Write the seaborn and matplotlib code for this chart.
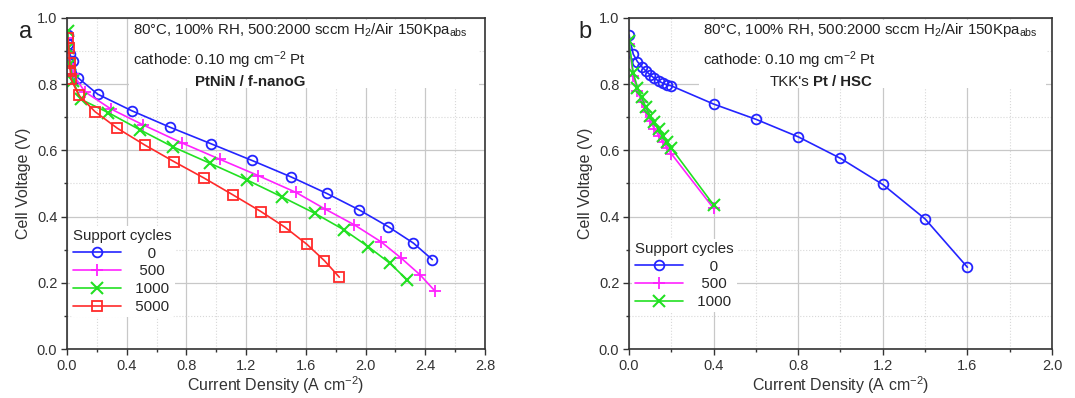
import numpy as np
import matplotlib
matplotlib.use("Agg")
import matplotlib.pyplot as plt
import seaborn as sns
from matplotlib.patches import Rectangle
from matplotlib.ticker import MultipleLocator

# panel a: PtNiN / f-nanoG
a_j0 = [0.005, 0.01, 0.02, 0.04, 0.072, 0.205, 0.433, 0.69, 0.965, 1.237, 1.50, 1.74, 1.958, 2.15, 2.32, 2.447]
a_v0 = [0.95, 0.92, 0.89, 0.87, 0.82, 0.77, 0.72, 0.67, 0.62, 0.57, 0.52, 0.47, 0.42, 0.37, 0.32, 0.27]
a_j500 = [0.005, 0.01, 0.02, 0.04, 0.12, 0.295, 0.51, 0.768, 1.025, 1.28, 1.534, 1.728, 1.925, 2.103, 2.24, 2.365, 2.465]
a_v500 = [0.94, 0.90, 0.86, 0.83, 0.777, 0.725, 0.677, 0.623, 0.573, 0.524, 0.473, 0.423, 0.375, 0.324, 0.274, 0.224, 0.175]
a_j1000 = [0.005, 0.01, 0.02, 0.04, 0.094, 0.277, 0.49, 0.708, 0.958, 1.204, 1.438, 1.66, 1.855, 2.018, 2.163, 2.28]
a_v1000 = [0.96, 0.91, 0.86, 0.81, 0.754, 0.714, 0.662, 0.611, 0.561, 0.511, 0.46, 0.41, 0.36, 0.309, 0.259, 0.208]
a_j5000 = [0.008, 0.012, 0.018, 0.022, 0.027, 0.08, 0.188, 0.337, 0.522, 0.717, 0.92, 1.114, 1.30, 1.46, 1.605, 1.724, 1.824]
a_v5000 = [0.94, 0.91, 0.863, 0.84, 0.815, 0.766, 0.717, 0.667, 0.616, 0.566, 0.516, 0.465, 0.415, 0.368, 0.317, 0.267, 0.217]

# panel b: TKK's Pt / HSC
b_j0 = [0.0, 0.02, 0.04, 0.06, 0.08, 0.10, 0.12, 0.14, 0.16, 0.18, 0.20, 0.4, 0.6, 0.8, 1.0, 1.2, 1.4, 1.6]
b_v0 = [0.949, 0.891, 0.868, 0.853, 0.84, 0.828, 0.818, 0.81, 0.803, 0.798, 0.795, 0.74, 0.694, 0.641, 0.576, 0.497, 0.393, 0.247]
b_j = [0.0, 0.02, 0.04, 0.06, 0.08, 0.10, 0.12, 0.14, 0.16, 0.18, 0.20, 0.40]
b_v500 = [0.92, 0.825, 0.78, 0.745, 0.715, 0.69, 0.665, 0.645, 0.625, 0.607, 0.59, 0.425]
b_v1000 = [0.93, 0.835, 0.79, 0.76, 0.73, 0.705, 0.685, 0.665, 0.645, 0.625, 0.607, 0.435]

sns.set_style("white")
plt.rcParams['font.family'] = ['Liberation Sans', 'DejaVu Sans']
plt.rcParams['mathtext.fontset'] = 'custom'
plt.rcParams['mathtext.rm'] = 'Liberation Sans'
plt.rcParams['mathtext.it'] = 'Liberation Sans'

styles = {
    '0': dict(color='#2424ff', marker='o', markerfacecolor='none', markersize=7, markeredgewidth=1.3),
    '500': dict(color='#ff22ff', marker='+', markersize=9, markeredgewidth=1.3),
    '1000': dict(color='#22e022', marker='x', markersize=8, markeredgewidth=1.5),
    '5000': dict(color='#ff2a2a', marker='s', markerfacecolor='none', markersize=6.5, markeredgewidth=1.3),
}
labels = {'0': '     0', '500': '   500', '1000': '  1000', '5000': '  5000'}

fig = plt.figure(figsize=(10.75, 3.98), dpi=100)
ax_a = fig.add_axes([0.0623, 0.1231, 0.3889, 0.8317])
ax_b = fig.add_axes([0.5851, 0.1231, 0.3935, 0.8317])


def draw(ax, series, xmax, box_x0):
    for key, (x, y) in series.items():
        st = styles[key]
        sns.lineplot(x=x, y=y, ax=ax, estimator=None, sort=False, linewidth=1.2,
                     label=labels[key], markeredgecolor=st['color'], **st)
    ax.set_xlim(0, xmax)
    ax.set_ylim(0, 1.0)
    ax.xaxis.set_major_locator(MultipleLocator(0.4))
    ax.xaxis.set_minor_locator(MultipleLocator(0.2))
    ax.yaxis.set_major_locator(MultipleLocator(0.2))
    ax.yaxis.set_minor_locator(MultipleLocator(0.1))
    ax.xaxis.set_major_formatter('{x:.1f}')
    ax.yaxis.set_major_formatter('{x:.1f}')
    ax.set_axisbelow(True)
    ax.grid(which='major', color='#c8c8c8', linewidth=0.9)
    ax.grid(which='minor', color='#d8d8d8', linewidth=0.8, linestyle=':')
    ax.tick_params(which='both', direction='out', left=True, bottom=True, labelsize=10.5, colors='#333333')
    ax.tick_params(which='major', length=4, width=1, pad=3)
    ax.tick_params(which='minor', length=2.5, width=1)
    for s in ax.spines.values():
        s.set_color('#333333')
        s.set_linewidth(1.2)
    ax.set_xlabel('Current Density (A cm$^{-2}$)', fontsize=11.5, color='#333333', labelpad=1)
    ax.set_ylabel('Cell Voltage (V)', fontsize=11.5, color='#333333')
    ax.add_patch(Rectangle((box_x0, 0.79), 0.985 - box_x0, 0.205, transform=ax.transAxes,
                           facecolor='white', edgecolor='none', zorder=1.5))
    ax.text(box_x0 + 0.01, 0.965, '80\u00b0C, 100% RH, 500:2000 sccm H$_2$/Air 150Kpa$_{abs}$',
            transform=ax.transAxes, fontsize=10.8, va='center', color='#222222')
    ax.text(box_x0 + 0.01, 0.873, 'cathode: 0.10 mg cm$^{-2}$ Pt',
            transform=ax.transAxes, fontsize=10.8, va='center', color='#222222')


draw(ax_a, {'0': (a_j0, a_v0), '500': (a_j500, a_v500),
            '1000': (a_j1000, a_v1000), '5000': (a_j5000, a_v5000)}, 2.8, 0.148)
draw(ax_b, {'0': (b_j0, b_v0), '500': (b_j, b_v500), '1000': (b_j, b_v1000)}, 2.0, 0.165)

ax_a.text(0.438, 0.807, 'PtNiN / f-nanoG', transform=ax_a.transAxes, fontsize=10.8,
          fontweight='bold', ha='center', va='center', color='#222222')
ax_b.text(0.333, 0.807, "TKK's", transform=ax_b.transAxes, fontsize=10.8,
          va='center', color='#222222')
ax_b.text(0.435, 0.807, 'Pt / HSC', transform=ax_b.transAxes, fontsize=10.8,
          fontweight='bold', va='center', color='#222222')

for ax, pos in [(ax_a, 0.395), (ax_b, 0.355)]:
    leg = ax.legend(title='Support cycles', loc='upper left', bbox_to_anchor=(-0.01, pos),
                    frameon=True, facecolor='white', edgecolor='none', framealpha=1,
                    fontsize=10.8, title_fontsize=10.8, handlelength=3.2,
                    borderpad=0.2, labelspacing=0.25, handletextpad=0.4)
    leg._legend_box.align = 'left'

fig.text(0.018, 0.905, 'a', fontsize=17, color='#222222')
fig.text(0.538, 0.905, 'b', fontsize=17, color='#222222')

fig.savefig('out.png', dpi=100)
